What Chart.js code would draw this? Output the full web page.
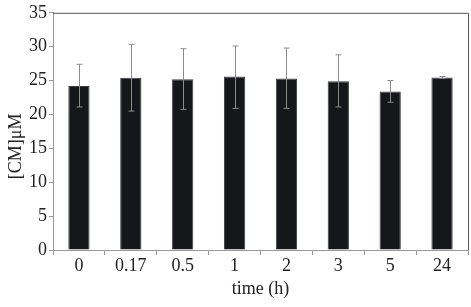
<!DOCTYPE html>
<html>
<head>
<meta charset="utf-8">
<script src="https://cdn.jsdelivr.net/npm/chart.js@4/dist/chart.umd.min.js"></script>
<style>
  html, body { margin: 0; padding: 0; background: #fff; }
  #wrap { width: 471px; height: 307px; }
</style>
</head>
<body>
<div id="wrap"><canvas id="cmChart" width="471" height="307"></canvas></div>
<script>
const timeLabels = ["0", "0.17", "0.5", "1", "2", "3", "5", "24"];
const cmMeans = [24.2, 25.4, 25.2, 25.6, 25.3, 24.9, 23.4, 25.45];
const errHigh = [27.4, 30.35, 29.7, 30.1, 29.8, 28.8, 25.0, 25.6];
const errLow = [21.1, 20.5, 20.75, 20.9, 20.9, 21.1, 21.8, 25.3];
const yTicks = [0, 5, 10, 15, 20, 25, 30, 35];
const yTitle = "[CM]μM";

const serif = "'Liberation Serif', 'Times New Roman', serif";

// error bars, top/right frame and the y title (sits a bit below centre in the original)
const extras = {
  id: "extras",
  afterDatasetsDraw(chart) {
    const ctx = chart.ctx;
    const y = chart.scales.y;
    const meta = chart.getDatasetMeta(0);
    ctx.save();
    ctx.strokeStyle = "#8c8c8c";
    ctx.lineWidth = 1;
    meta.data.forEach((bar, i) => {
      const x = Math.round(bar.x) + 0.5;
      const top = y.getPixelForValue(errHigh[i]);
      const bot = y.getPixelForValue(errLow[i]);
      ctx.beginPath();
      ctx.moveTo(x, top);
      ctx.lineTo(x, bot);
      ctx.moveTo(x - 3, top);
      ctx.lineTo(x + 3, top);
      ctx.moveTo(x - 3, bot);
      ctx.lineTo(x + 3, bot);
      ctx.stroke();
    });
    const a = chart.chartArea;
    ctx.strokeStyle = "#555";
    ctx.beginPath();
    ctx.moveTo(a.left, a.top + 0.5);
    ctx.lineTo(a.right + 0.5, a.top + 0.5);
    ctx.lineTo(a.right + 0.5, a.bottom);
    ctx.stroke();

    ctx.translate(16, (a.top + a.bottom) / 2 + 15);
    ctx.rotate(-Math.PI / 2);
    ctx.fillStyle = "#222";
    ctx.font = "18px " + serif;
    ctx.textAlign = "center";
    ctx.textBaseline = "middle";
    ctx.fillText(yTitle, 0, 0);
    ctx.restore();
  }
};

new Chart(document.getElementById("cmChart").getContext("2d"), {
  type: "bar",
  data: {
    labels: timeLabels,
    datasets: [{
      data: cmMeans,
      backgroundColor: "#16171b",
      borderColor: "#3c3d42",
      borderWidth: 1,
      categoryPercentage: 1,
      barPercentage: 0.41
    }]
  },
  options: {
    responsive: false,
    animation: false,
    layout: { padding: { left: 0, right: 3, top: 7, bottom: 0 } },
    plugins: { legend: { display: false }, tooltip: { enabled: false } },
    scales: {
      x: {
        grid: { offset: true, drawOnChartArea: false, color: "#999", tickLength: 5 },
        border: { color: "#999" },
        ticks: { color: "#222", font: { family: serif, size: 18 }, padding: 0 },
        title: { display: true, text: "time (h)", color: "#222", font: { family: serif, size: 18 }, padding: { top: 0, bottom: 7 } },
        afterFit(scale) { scale.height = 57; }
      },
      y: {
        min: 0,
        max: 35,
        afterBuildTicks(scale) { scale.ticks = yTicks.map(v => ({ value: v })); },
        grid: { drawOnChartArea: false, color: "#999", tickLength: 4 },
        border: { color: "#999" },
        ticks: { color: "#222", font: { family: serif, size: 18 }, padding: 2 },
        afterFit(scale) { scale.width = 53; }
      }
    }
  },
  plugins: [extras]
});
</script>
</body>
</html>
